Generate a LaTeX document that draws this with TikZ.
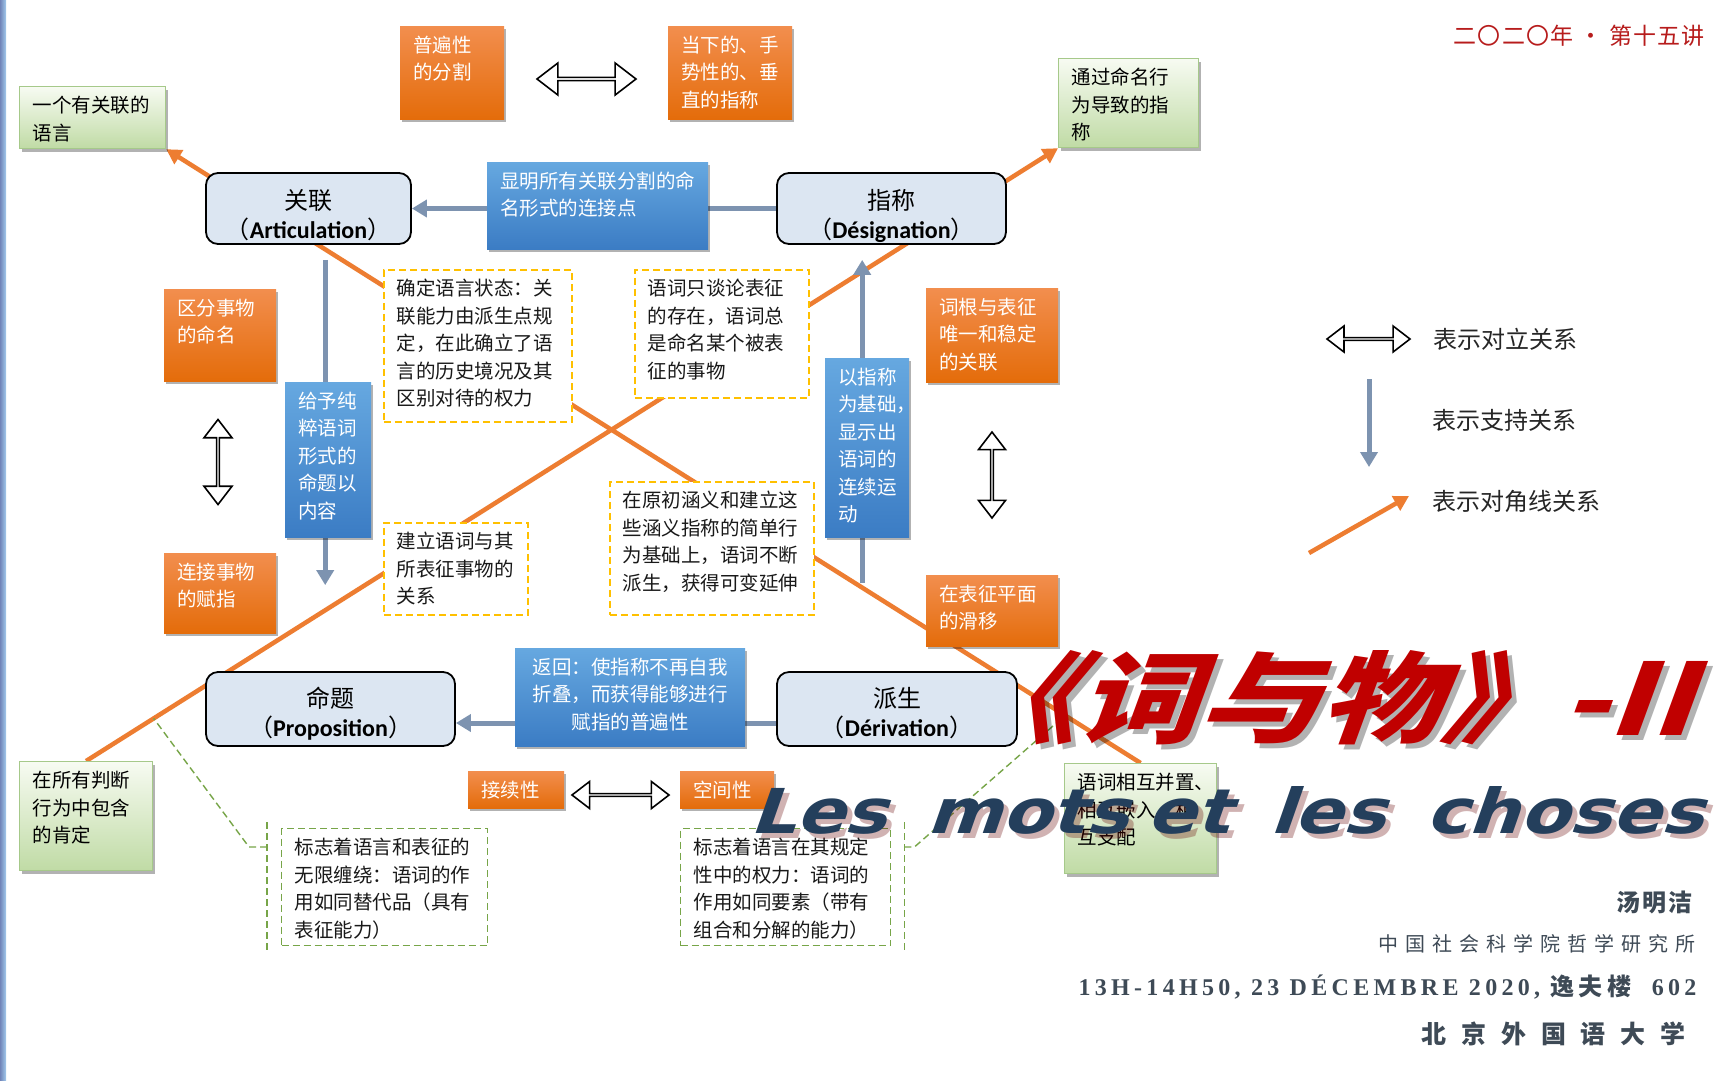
\documentclass[tikz,border=0pt]{standalone}
\usepackage{fontspec}
\usepackage{xcolor}
\usepackage{graphicx}
\usepackage{tikz}
\usetikzlibrary{arrows.meta, positioning, shapes.arrows, shadows, backgrounds, calc}

\setmainfont{Noto Sans CJK SC}
\newfontfamily\latinfont{Carlito}
\newfontfamily\seriffont{Liberation Serif}
\newfontfamily\motsfont{DejaVu Sans}[FakeSlant=0.3]
\newfontfamily\titlefont{Noto Sans CJK SC}[FakeSlant=0.3]

\definecolor{orangetop}{HTML}{F28E4E}
\definecolor{orangebot}{HTML}{E46C0A}
\definecolor{bluetop}{HTML}{66A8E0}
\definecolor{bluebot}{HTML}{3B7CC4}
\definecolor{greentop}{HTML}{F7FBF2}
\definecolor{greenbot}{HTML}{C0DBA5}
\definecolor{greenline}{HTML}{A6C98A}
\definecolor{mainfill}{HTML}{DCE6F2}
\definecolor{diagline}{HTML}{ED7D31}
\definecolor{supportline}{HTML}{7D93B0}
\definecolor{golddash}{HTML}{FFC000}
\definecolor{greendash}{HTML}{77A548}
\definecolor{titlered}{HTML}{C00000}
\definecolor{slate}{HTML}{243F5C}
\definecolor{inkgray}{HTML}{3E4A56}
\definecolor{headred}{HTML}{B71C1C}

\newcommand{\boxfont}{\fontsize{19.5}{27.5}\selectfont}
\newcommand{\maintitle}{\resizebox{736pt}{85pt}{\titlefont\bfseries 《词与物》-II}}
\newcommand{\subtitle}{\resizebox{954pt}{47pt}{\motsfont\bfseries Les\hspace{0.55em}mots\hspace{0.25em}et\hspace{0.55em}les\hspace{0.55em}choses}}

\begin{document}
\begin{tikzpicture}[
			x=1pt, y=-1pt,
			every node/.style={font=\boxfont},
			basebox/.style={
				rectangle, anchor=north west, align=left,
				inner xsep=13pt, inner ysep=9pt, text height=17pt
			},
			boxshadow/.style={drop shadow={shadow xshift=2pt, shadow yshift=-3pt, opacity=0.3, fill=black}},
			obox/.style={basebox, top color=orangetop, bottom color=orangebot, text=white, boxshadow},
			bbox/.style={basebox, top color=bluetop, bottom color=bluebot, text=white, boxshadow},
			gbox/.style={basebox, top color=greentop, bottom color=greenbot, draw=greenline, line width=1.2pt, boxshadow},
			ybox/.style={basebox, draw=golddash, fill=white, line width=1.8pt, dash pattern=on 7pt off 4pt, text=black!90},
			cbox/.style={basebox, draw=greendash, fill=white, line width=1.4pt, dash pattern=on 7pt off 4pt, text=black!90},
			mainbox/.style={
				rectangle, rounded corners=12pt, draw=black, line width=1.8pt, fill=mainfill,
				align=center, inner sep=0pt, font=\fontsize{24}{29}\selectfont
			},
			oppose/.style={
				double arrow, draw=black, fill=white, line width=1.6pt, inner sep=0pt,
				double arrow head extend=7pt, double arrow tip angle=75
			},
			support/.style={draw=supportline, line width=5pt, -{Triangle[length=15pt,width=17pt]}},
			diag/.style={draw=diagline, line width=4.5pt, -{Triangle[length=15pt,width=16pt]}},
			calloutline/.style={draw=greendash, line width=1.4pt, dash pattern=on 7pt off 4pt},
			legendtext/.style={anchor=west, font=\fontsize{24}{28}\selectfont, text=black!85}
			]
			
			\useasboundingbox (0,0) rectangle (1728,1080);
			
			% top row
			\node[obox, text width=78pt, text depth=58pt] (split) at (400,26) {普遍性\\的分割};
			\node[oppose, minimum height=99pt, minimum width=32pt] (opptop) at (586.5,79) {};
			\node[obox, text width=98pt, text depth=58pt] (deictic) at (668,26) {当下的、手\\势性的、垂\\直的指称};
			\node[gbox, text width=120pt, text depth=27pt] (langlink) at (19,86) {一个有关联的\\语言};
			\node[gbox, text width=114pt, text depth=54pt] (naming) at (1058,58) {通过命名行\\为导致的指\\称};
			
			% the four poles
			\node[mainbox, text width=205pt, text height=36pt, text depth=35pt] (art) at (308.5,208.5) {关联\\（{\latinfont\bfseries Articulation}）};
			\node[mainbox, text width=229pt, text height=36pt, text depth=35pt] (des) at (891.5,208.5) {指称\\（{\latinfont\bfseries Désignation}）};
			\node[mainbox, text width=249pt, text height=35pt, text depth=39pt] (prop) at (330.5,709) {命题\\（{\latinfont\bfseries Proposition}）};
			\node[mainbox, text width=240pt, text height=35pt, text depth=39pt] (der) at (897,709) {派生\\（{\latinfont\bfseries Dérivation}）};
			
			% blue boxes on the support lines
			\node[bbox, text width=195pt, text depth=52pt] (joint) at (487,162) {显明所有关联分割的命\\名形式的连接点};
			\node[bbox, text width=60pt, text depth=120pt] (content) at (285,382) {给予纯\\粹语词\\形式的\\命题以\\内容};
			\node[bbox, text width=58pt, text depth=144pt] (motion) at (825,358) {以指称\\为基础，\\显示出\\语词的\\连续运\\动};
			\node[bbox, align=center, text width=204pt, text depth=63pt] (return) at (515,648) {返回：使指称不再自我\\折叠，而获得能够进行\\赋指的普遍性};
			
			% side oppositions
			\node[obox, text width=86pt, text depth=57pt] (distinct) at (164,289) {区分事物\\的命名};
			\node[oppose, rotate=90, minimum height=85pt, minimum width=28pt] (oppleft) at (218,462) {};
			\node[obox, text width=86pt, text depth=45pt] (connect) at (164,553) {连接事物\\的赋指};
			\node[obox, text width=106pt, text depth=59pt] (root) at (926,288) {词根与表征\\唯一和稳定\\的关联};
			\node[oppose, rotate=90, minimum height=86pt, minimum width=27pt] (oppright) at (992,475) {};
			\node[obox, text width=106pt, text depth=36pt] (slide) at (926,575) {在表征平面\\的滑移};
			
			% notes on the diagonals
			\node[ybox, text width=162pt, text depth=117pt] (state) at (383,269) {确定语言状态：关\\联能力由派生点规\\定，在此确立了语\\言的历史境况及其\\区别对待的权力};
			\node[ybox, text width=118pt, text depth=57pt] (relation) at (383,522) {建立语词与其\\所表征事物的\\关系};
			\node[ybox, text width=148pt, text depth=93pt] (exist) at (634,269) {语词只谈论表征\\的存在，语词总\\是命名某个被表\\征的事物};
			\node[ybox, text width=178pt, text depth=98pt] (extend) at (609,481) {在原初涵义和建立这\\些涵义指称的简单行\\为基础上，语词不断\\派生，获得可变延伸};
			
			% bottom row
			\node[obox, text width=70pt, text depth=2pt] (contig) at (468,771) {接续性};
			\node[oppose, minimum height=97pt, minimum width=27pt] (oppbottom) at (620.5,795) {};
			\node[obox, text width=68pt, text depth=2pt] (spatial) at (680,771) {空间性};
			\node[gbox, text width=107pt, text depth=74pt] (affirm) at (19,761) {在所有判断\\行为中包含\\的肯定};
			\node[gbox, text width=126pt, text depth=75pt] (mutual) at (1064,763) {语词相互并置、\\相互嵌入、相\\互支配};
			\node[cbox, text width=180pt, text depth=82pt] (substitute) at (281,828) {标志着语言和表征的\\无限缠绕：语词的作\\用如同替代品（具有\\表征能力）};
			\node[cbox, text width=184pt, text depth=82pt] (element) at (680,828) {标志着语言在其规定\\性中的权力：语词的\\作用如同要素（带有\\组合和分解的能力）};
			
			\coordinate (lead1) at ($(affirm.north)!0.0695!(naming.south west)$);
			\coordinate (lead2) at ($(mutual.north)!0.0775!(langlink.south east)$);
			
			\begin{scope}[on background layer]
				\fill[white] (0,0) rectangle (1728,1080);
				\fill[left color=supportline!90!blue, right color=bluetop!60] (0,0) rectangle (6,1080);
				\draw[diag] (mutual.north) -- (langlink.south east);
				\draw[diag] (affirm.north) -- (naming.south west);
				\draw[support] (des.west) -- (art.east);
				\draw[support] ($(der.west)+(0,14)$) -- ($(prop.east)+(0,14)$);
				\draw[support] ($(art.south -| content.north)+(-3,15)$) -- ($(prop.north -| content.north)+(-3,-86)$);
				\draw[support] ($(der.north -| motion.south)+(-5,-88)$) -- ($(des.south -| motion.north)+(-5,15)$);
				\draw[calloutline] ($(substitute.north west)+(-14,-6)$) -- ($(substitute.south west)+(-14,7)$);
				\draw[calloutline] ($(substitute.north west)+(-14,19)$) -- ++(-18,0) -- (lead1);
				\draw[calloutline] ($(element.north east)+(13,-6)$) -- ($(element.south east)+(13,7)$);
				\draw[calloutline] ($(element.north east)+(13,19)$) -- ++(10,0) -- (lead2);
			\end{scope}
			
			% legend
			\node[oppose, minimum height=83pt, minimum width=26pt] (legopp) at (1368.5,339) {};
			\node[legendtext, right=19pt of legopp] (legopptext) {表示对立关系};
			\coordinate (legsupa) at (1369,379);
			\coordinate (legsupb) at (1369,467);
			\draw[support] (legsupa) -- (legsupb);
			\node[legendtext] (legsuptext) at (1429,420) {表示支持关系};
			\coordinate (legdiaga) at (1309,553);
			\coordinate (legdiagb) at (1409,496);
			\draw[diag] (legdiaga) -- (legdiagb);
			\node[legendtext] (legdiagtext) at (1429,501) {表示对角线关系};
			
			% titles
			\node[anchor=east, text=headred, font=\fontsize{23}{26}\selectfont\addfontfeature{LetterSpace=5}] (lecture) at (1708,36) {二〇二〇年 · 第十五讲};
			\node[anchor=north west, inner sep=0pt, text=black, opacity=0.3] (titleshade) at (960,655) {\maintitle};
			\node[anchor=north west, inner sep=0pt, text=titlered] (title) at (955,650) {\maintitle};
			\node[anchor=north west, inner sep=0pt, text=red!40!black, opacity=0.3] (subshade) at (754,791) {\subtitle};
			\node[anchor=north west, inner sep=0pt, text=slate] (sub) at (749,786) {\subtitle};
			
			% speaker block
			\node[anchor=east, text=inkgray, font=\fontsize{24}{28}\selectfont\bfseries\addfontfeature{LetterSpace=8}] (author) at (1696,902) {汤明洁};
			\node[anchor=east, text=inkgray, font=\fontsize{20}{24}\selectfont\addfontfeature{LetterSpace=35}] (inst) at (1699,944) {中国社会科学院哲学研究所};
			\node[anchor=east, text=inkgray, font=\fontsize{24}{28}\selectfont] (date) at (1700,987) {{\seriffont\bfseries\addfontfeature{LetterSpace=18}13H-14H50, 23 DÉCEMBRE 2020, }{\bfseries\addfontfeature{LetterSpace=18}逸夫楼}{\seriffont\bfseries\addfontfeature{LetterSpace=18}\ \ 602}};
			\node[anchor=east, text=inkgray, font=\fontsize{25}{28}\selectfont\bfseries\addfontfeature{LetterSpace=59}] (univ) at (1689,1034) {北京外国语大学};
			
		\end{tikzpicture}
\end{document}
